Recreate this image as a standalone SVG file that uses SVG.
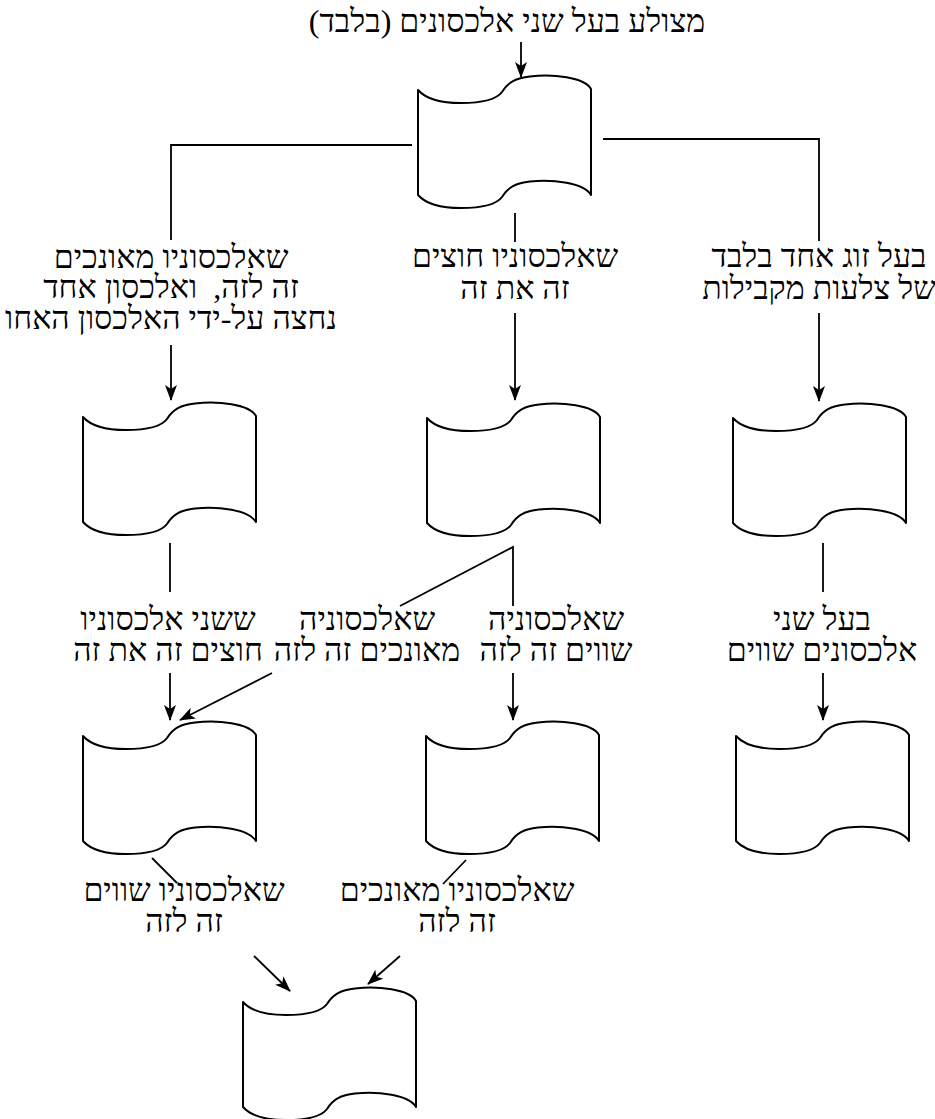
<svg xmlns="http://www.w3.org/2000/svg" width="935" height="1119" viewBox="0 0 935 1119">
<style>
.shape{fill:#fff;stroke:#000;stroke-width:2;stroke-linejoin:round}
.c{fill:none;stroke:#000;stroke-width:1.8}
.a{marker-end:url(#arr)}
text{font-family:"Liberation Serif","DejaVu Serif",serif;font-size:32px;text-anchor:middle;fill:#000}
</style>
<defs>
<marker id="arr" viewBox="0 0 16 12" refX="15" refY="6" markerWidth="16" markerHeight="12" markerUnits="userSpaceOnUse" orient="auto">
<path d="M0,0 L16,6 L0,12 L4,6 Z" fill="#000"/>
</marker>
<path id="tape" d="M0,0 C8,9 24,13 43,13 C61,13 78,10 84,2 C90,-8 98,-12 112,-13.5 C135,-16 166,-13 173,-1 L173,105 C166,93 135,89 112,91.5 C98,93 90,97 84,107 C78,115 61,118 43,118 C24,118 8,114 0,105 Z"/>
</defs>
<g id="title"><text x="507" y="32" direction="rtl">מצולע בעל שני אלכסונים (בלבד)</text></g>
<g id="connectors">
<line class="c a" x1="521" y1="42" x2="521" y2="77"/>
<polyline class="c" points="412,145 171,145 171,240"/>
<polyline class="c" points="603,139 819,139 819,241"/>
<line class="c" x1="515" y1="213" x2="515" y2="242"/>
<line class="c a" x1="171" y1="345" x2="171" y2="400"/>
<line class="c a" x1="515" y1="313" x2="515" y2="400"/>
<line class="c a" x1="819" y1="313" x2="819" y2="401"/>
<line class="c" x1="170" y1="543" x2="170" y2="592"/>
<polyline class="c" points="400,606 513,547 513,606"/>
<line class="c" x1="823" y1="543" x2="823" y2="592"/>
<line class="c a" x1="170" y1="673" x2="170" y2="720"/>
<line class="c a" x1="272" y1="673" x2="180" y2="720"/>
<line class="c a" x1="513" y1="673" x2="513" y2="720"/>
<line class="c a" x1="823" y1="673" x2="823" y2="720"/>
<line class="c" x1="152" y1="858" x2="177" y2="883"/>
<line class="c" x1="466" y1="860" x2="443" y2="884"/>
<line class="c a" x1="254" y1="956" x2="290" y2="991"/>
<line class="c a" x1="400" y1="956" x2="368" y2="984"/>
</g>
<g id="n0"><use href="#tape" class="shape" x="418" y="90"/></g>
<g id="l1"><text x="171" y="268" direction="rtl">שאלכסוניו מאונכים</text><text x="171" y="298" direction="rtl" xml:space="preserve">זה לזה,  ואלכסון אחד</text><text x="171" y="329" direction="rtl">נחצה על-ידי האלכסון האחו</text></g>
<g id="l2"><text x="515" y="267" direction="rtl">שאלכסוניו חוצים</text><text x="515" y="299" direction="rtl">זה את זה</text></g>
<g id="l3"><text x="819" y="267" direction="rtl">בעל זוג אחד בלבד</text><text x="819" y="299" direction="rtl">של צלעות מקבילות</text></g>
<g id="n1"><use href="#tape" class="shape" x="83" y="417"/></g>
<g id="n2"><use href="#tape" class="shape" x="427" y="418"/></g>
<g id="n3"><use href="#tape" class="shape" x="733" y="418"/></g>
<g id="l4"><text x="168" y="630" direction="rtl">ששני אלכסוניו</text><text x="168" y="661" direction="rtl">חוצים זה את זה</text></g>
<g id="l5"><text x="367" y="630" direction="rtl">שאלכסוניה</text><text x="367" y="661" direction="rtl">מאונכים זה לזה</text></g>
<g id="l6"><text x="556" y="630" direction="rtl">שאלכסוניה</text><text x="556" y="661" direction="rtl">שווים זה לזה</text></g>
<g id="l7"><text x="822" y="630" direction="rtl">בעל שני</text><text x="822" y="661" direction="rtl">אלכסונים שווים</text></g>
<g id="n4"><use href="#tape" class="shape" x="83" y="736"/></g>
<g id="n5"><use href="#tape" class="shape" x="426" y="736"/></g>
<g id="n6"><use href="#tape" class="shape" x="736" y="736"/></g>
<g id="l8"><text x="184" y="901" direction="rtl">שאלכסוניו שווים</text><text x="184" y="932" direction="rtl">זה לזה</text></g>
<g id="l9"><text x="457" y="901" direction="rtl">שאלכסוניו מאונכים</text><text x="457" y="932" direction="rtl">זה לזה</text></g>
<g id="n7"><use href="#tape" class="shape" x="243" y="1002"/></g>
</svg>
